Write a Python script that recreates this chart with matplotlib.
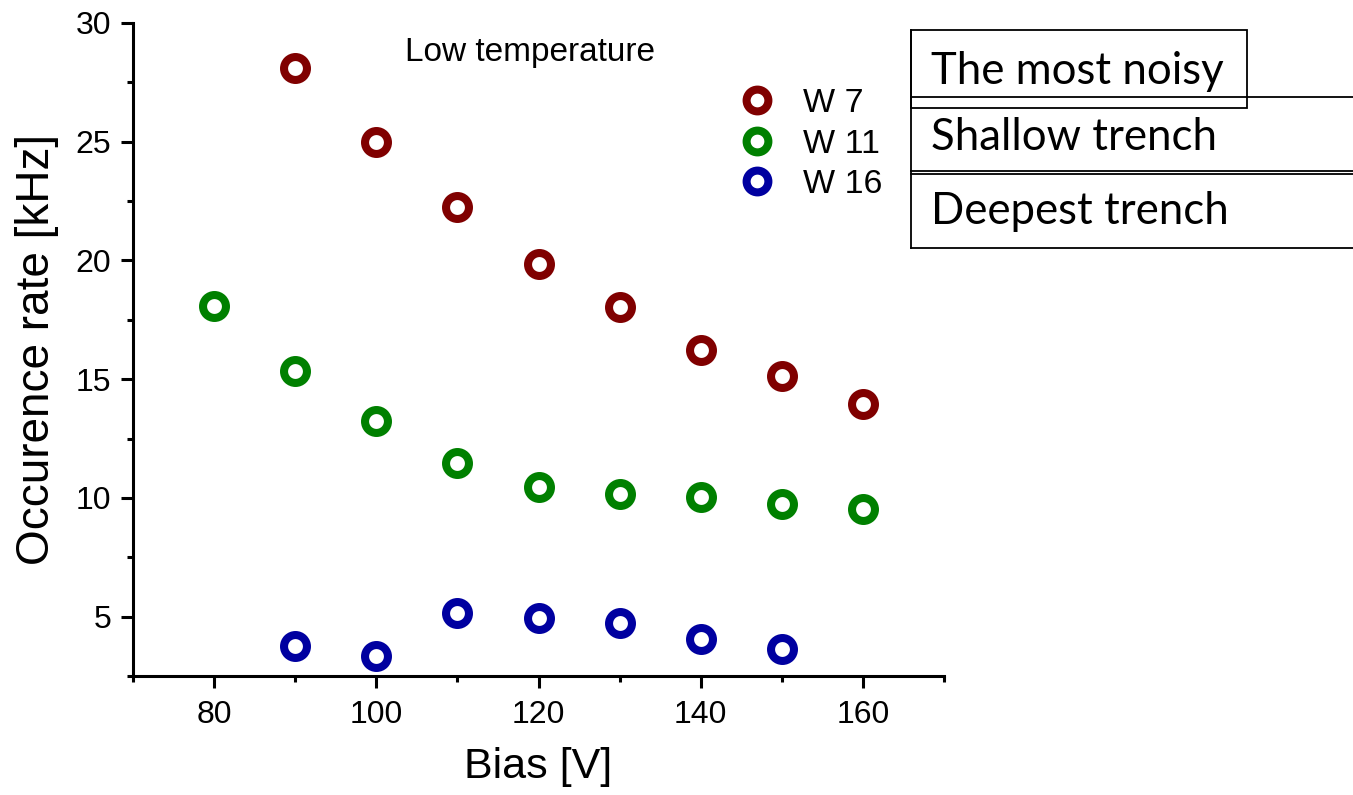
import matplotlib
matplotlib.use("Agg")
import matplotlib.pyplot as plt
from matplotlib.lines import Line2D
from matplotlib.patches import Rectangle
from matplotlib.ticker import MultipleLocator

plt.rcParams['font.family'] = ['Liberation Sans', 'DejaVu Sans']

# Occurrence rate vs. bias voltage for three wafers
bias_w7 = [90, 100, 110, 120, 130, 140, 150, 160]
rate_w7 = [28.1, 25.0, 22.25, 19.85, 18.05, 16.25, 15.15, 13.95]

bias_w11 = [80, 90, 100, 110, 120, 130, 140, 150, 160]
rate_w11 = [18.1, 15.35, 13.25, 11.45, 10.45, 10.15, 10.05, 9.75, 9.55]

bias_w16 = [90, 100, 110, 120, 130, 140, 150]
rate_w16 = [3.75, 3.35, 5.15, 4.95, 4.75, 4.05, 3.65]

series_labels = ["W 7", "W 11", "W 16"]
series_colors = ["#800000", "#008000", "#0000A0"]
box_labels = ["The most noisy", "Shallow trench", "Deepest trench"]

W, H = 1353, 795
fig = plt.figure(figsize=(W / 100, H / 100), dpi=100)
ax = fig.add_axes([133 / W, 1 - 676 / H, (944 - 133) / W, (676 - 23) / H])

marker_kw = dict(linestyle='none', marker='o', markersize=16.5,
                 markerfacecolor='none', markeredgewidth=5.8)
for xs, ys, lab, col in zip([bias_w7, bias_w11, bias_w16],
                            [rate_w7, rate_w11, rate_w16],
                            series_labels, series_colors):
    ax.plot(xs, ys, label=lab, markeredgecolor=col, **marker_kw)

ax.set_xlim(70, 170)
ax.set_ylim(2.5, 30)
ax.xaxis.set_minor_locator(MultipleLocator(10))
ax.yaxis.set_minor_locator(MultipleLocator(2.5))
ax.set_xticks([80, 100, 120, 140, 160])
ax.set_yticks([5, 10, 15, 20, 25, 30])

for s in ['top', 'right']:
    ax.spines[s].set_visible(False)
for s in ['left', 'bottom']:
    ax.spines[s].set_linewidth(2.2)
ax.tick_params(which='major', direction='out', length=8.5, width=2.2,
               labelsize=23)
ax.tick_params(which='minor', direction='out', length=4.5, width=2.2)
ax.tick_params(axis='x', which='major', pad=9)
ax.tick_params(axis='y', which='major', pad=7)

ax.set_xlabel("Bias [V]", fontsize=31, labelpad=12)
ax.set_ylabel("Occurence rate [kHz]", fontsize=33, labelpad=12)

ax.text((405 - 133) / 811, (676 - 53) / 653, "Low temperature",
        transform=ax.transAxes, fontsize=24, va='center', ha='left')

ax.legend(loc='upper left', bbox_to_anchor=((747 - 133) / 811, (676 - 88) / 653),
          frameon=False, fontsize=24.5, handlelength=0.6, handletextpad=1.05,
          labelspacing=0.28, borderpad=0, borderaxespad=0, markerscale=0.95)

# Annotation boxes on the right-hand side
def fx(px):
    return px / W


def fy(py):
    return 1 - py / H


lw = 1.3
fig.add_artist(Rectangle((fx(911), fy(108)), fx(1247) - fx(911), fy(30) - fy(108),
                         transform=fig.transFigure, fill=False, lw=lw,
                         edgecolor='black'))
for py in [97, 171, 174, 248]:
    fig.add_artist(Line2D([fx(911), fx(1353)], [fy(py), fy(py)],
                          transform=fig.transFigure, color='black', lw=lw))
fig.add_artist(Line2D([fx(911), fx(911)], [fy(30), fy(248)],
                      transform=fig.transFigure, color='black', lw=lw))

for lab, py in zip(box_labels, [71, 138, 211]):
    fig.text(fx(931), fy(py), lab, fontsize=31.5, va='center', ha='left',
             family=['Lato', 'DejaVu Sans'])

fig.savefig("out.png", dpi=100)
